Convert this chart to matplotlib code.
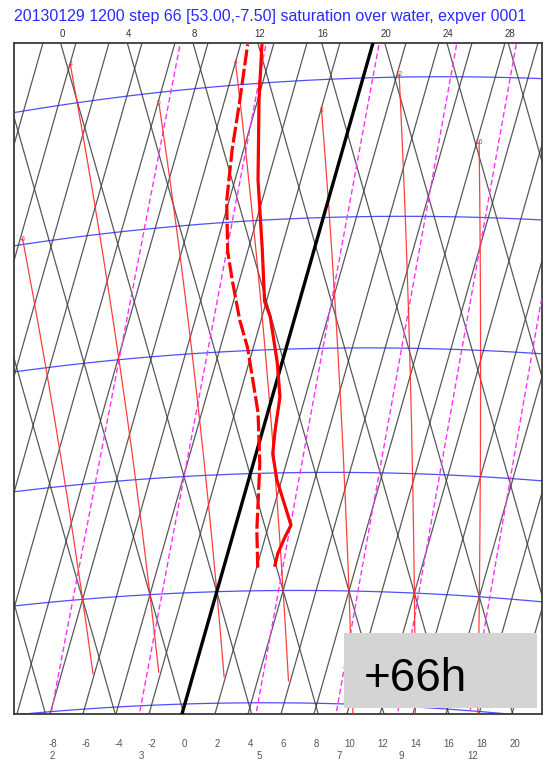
import numpy as np
import matplotlib
matplotlib.use("Agg")
import matplotlib.pyplot as plt
from matplotlib.patches import Rectangle

plt.rcParams['font.family'] = ['Liberation Sans', 'DejaVu Sans']

# ---------------- sounding ----------------
pressure_t = [989, 984, 977, 972, 964, 953, 942, 932, 919, 905, 887, 881, 861, 835, 806, 786]
temperature = [3.07, 3.04, 3.19, 3.35, 2.67, 1.72, 1.01, 0.74, 0.47, -0.30, -1.51, -2.11,
               -3.15, -4.60, -5.92, -6.72]
pressure_td = [990, 974, 946, 925, 899, 888, 872, 861, 842, 823, 806, 786]
dewpoint = [2.07, 1.37, 0.40, -0.59, -2.33, -3.28, -4.45, -5.21, -6.14, -6.70, -7.07, -7.57]

# ---------------- diagram furniture ----------------
isotherms = list(range(-60, 42, 2))            # degC
dry_adiabats = list(range(-24, 48, 4))         # theta in degC
top_labels = [0, 4, 8, 12, 16, 20, 24, 28]
bottom_labels = [-8, -6, -4, -2, 0, 2, 4, 6, 8, 10, 12, 14, 16, 18, 20]
isobars = [1050, 1000, 950, 900, 850, 800]
mixing_ratios = [2, 3, 5, 7, 9, 12]            # g/kg
theta_w = [-8, -4, 0, 4, 8, 12, 16]            # saturated adiabats, degC
sat_top = [848, 786, 804, 792, 811, 799, 823]
sat_bottom = [1034, 1035, 1038, 1040, 1060, 1060, 1060]

title = "20130129 1200 step 66 [53.00,-7.50] saturation over water, expver 0001"
step_label = "+66h"

# tephigram projection
K = 278.0
KAPPA = 0.2857
EPS = 0.622


def to_xy(t, p):
    t = np.asarray(t, float)
    p = np.asarray(p, float)
    b = K * np.log((t + 273.15) / 273.15) + K * KAPPA * np.log(1000.0 / p)
    return t + b, b - t


def es(t):
    return 6.112 * np.exp(17.67 * t / (t + 243.5))


def dewpoint_from_e(e):
    g = np.log(e / 6.112)
    return 243.5 * g / (17.67 - g)


def moist_rate(t, p):
    tk = t + 273.15
    e = es(t)
    rs = EPS * e / (p - e)
    rd, cp, lv = 287.04, 1005.7, 2.501e6
    return (rd * tk + lv * rs) / (p * (cp + lv * lv * rs * EPS / (rd * tk * tk)))


def moist_adiabat(t0, p_levels):
    # integrate from 1000 hPa in both directions
    out = {}
    for direction in (-1, 1):
        t, p = t0, 1000.0
        dp = 0.5 * direction
        lim = min(p_levels) if direction < 0 else max(p_levels)
        out[p] = t
        while (p > lim) if direction < 0 else (p < lim):
            k1 = moist_rate(t, p)
            k2 = moist_rate(t + 0.5 * dp * k1, p + 0.5 * dp)
            k3 = moist_rate(t + 0.5 * dp * k2, p + 0.5 * dp)
            k4 = moist_rate(t + dp * k3, p + dp)
            t += dp * (k1 + 2 * k2 + 2 * k3 + k4) / 6
            p += dp
            out[p] = t
    ps = np.array(sorted(out))
    ts = np.array([out[q] for q in ps])
    return np.interp(p_levels, ps, ts)


W, H = 546, 761
fig = plt.figure(figsize=(W / 100, H / 100), dpi=100)
L, R, T, B = 14, 542, 43, 714
ax = fig.add_axes([L / W, 1 - B / H, (R - L) / W, (B - T) / H])

x_lo, x_hi = -24.58, 39.42
y_lo, y_hi = -4.22, 18.93
ax.set_xlim(x_lo, x_hi)
ax.set_ylim(y_lo, y_hi)
ax.set_xticks([])
ax.set_yticks([])
for s in ax.spines.values():
    s.set_color('#3a3a3a')
    s.set_linewidth(1.3)

grey = '#3c3c3c'
p_span = np.linspace(1150, 650, 200)
t_span = np.linspace(-70, 60, 300)

# isobars
for p in isobars:
    x, y = to_xy(t_span, np.full_like(t_span, p))
    ax.plot(x, y, color='#3030ff', lw=0.9, alpha=0.85, zorder=2)

# isotherms
for t in isotherms:
    x, y = to_xy(np.full_like(p_span, t), p_span)
    if t == 0:
        ax.plot(x, y, color='black', lw=2.4, zorder=6)
    else:
        ax.plot(x, y, color=grey, lw=0.9, alpha=0.85, zorder=3)

# dry adiabats
for th in dry_adiabats:
    b = K * np.log((th + 273.15) / 273.15)
    ax.plot(t_span + b, b - t_span, color=grey, lw=0.9, alpha=0.85, zorder=3)

# mixing ratio lines
for w in mixing_ratios:
    wk = w / 1000.0
    e = wk * p_span / (EPS + wk)
    x, y = to_xy(dewpoint_from_e(e), p_span)
    ax.plot(x, y, color='#ff30ff', lw=1.0, dashes=(4, 2.2), zorder=4)

# saturated adiabats with their labels
for tw, ptop, pbot in zip(theta_w, sat_top, sat_bottom):
    pl = np.linspace(pbot, ptop, 150)
    x, y = to_xy(moist_adiabat(tw, pl), pl)
    ax.plot(x, y, color='#ff2a2a', lw=0.9, alpha=0.9, zorder=4)
    ax.text(x[-1], y[-1], str(tw), color='#ff2a2a', fontsize=4.8,
            ha='center', va='center', zorder=5)

# sounding
xt, yt = to_xy(temperature, pressure_t)
ax.plot(xt, yt, color='#ff0000', lw=2.3, zorder=7, solid_joinstyle='round')
xd, yd = to_xy(dewpoint, pressure_td)
ax.plot(xd, yd, color='#ff0000', lw=2.3, dashes=(5, 1.1), zorder=7)

# dry adiabat labels along the top edge
for th in top_labels:
    b = K * np.log((th + 273.15) / 273.15)
    ax.annotate(str(th), (2 * b - y_hi, y_hi), xytext=(1, 3), textcoords='offset points',
                ha='center', va='bottom', fontsize=7, color='#333333', annotation_clip=False)

# isotherm labels below the frame
for t in bottom_labels:
    ax.annotate(str(t), (2 * t + y_lo, y_lo), xytext=(2, -18), textcoords='offset points',
                ha='center', va='top', fontsize=7, color='#555555', annotation_clip=False)

# mixing ratio labels, second row
for w in mixing_ratios:
    wk = w / 1000.0
    pp = np.linspace(1100, 1000, 400)
    x, y = to_xy(dewpoint_from_e(wk * pp / (EPS + wk)), pp)
    xb = np.interp(y_lo, y[::-1], x[::-1])
    ax.annotate(str(w), (xb, y_lo), xytext=(15, -26.5), textcoords='offset points',
                ha='center', va='top', fontsize=7, color='#555555', annotation_clip=False)

fig.text(L / W, 1 - 16 / H, title, color='#2a2aff', fontsize=11.55, ha='left', va='center')

box = Rectangle((344 / W, 1 - 708 / H), 193 / W, 75 / H, transform=fig.transFigure,
                facecolor='#d4d4d4', edgecolor='none', zorder=20)
fig.add_artist(box)
fig.text(364 / W, 1 - 691 / H, step_label, fontsize=33, color='black',
         ha='left', va='baseline', zorder=21)

fig.savefig('out.png', dpi=100)
